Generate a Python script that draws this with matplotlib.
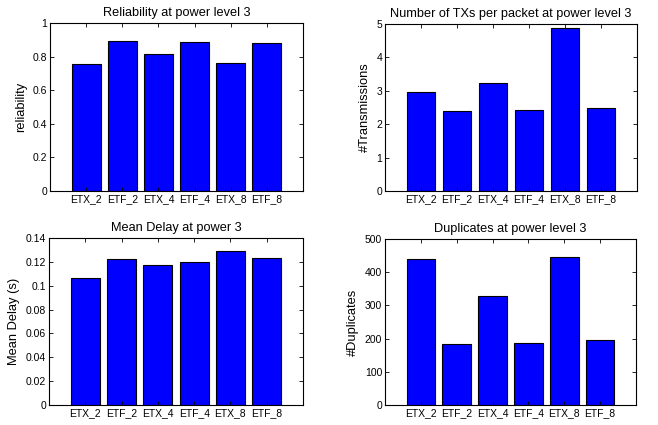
import matplotlib
matplotlib.use("Agg")
import matplotlib.pyplot as plt

categories = ["ETX_2", "ETF_2", "ETX_4", "ETF_4", "ETX_8", "ETF_8"]
reliability = [0.756, 0.891, 0.817, 0.887, 0.762, 0.881]
transmissions = [2.96, 2.40, 3.24, 2.42, 4.87, 2.49]
mean_delay = [0.1064, 0.1224, 0.1173, 0.1196, 0.1294, 0.1232]
duplicates = [441, 185, 329, 186, 447, 197]

plt.rcParams['font.family'] = ['Liberation Sans', 'DejaVu Sans']
plt.rcParams['font.size'] = 8

fig = plt.figure(figsize=(6.58, 4.25), dpi=100)
W, H = 658, 425

def make_ax(l, t, r, b):
    return fig.add_axes([l / W, 1 - b / H, (r - l) / W, (b - t) / H])

panels = [
    ((50, 23, 303, 191), reliability, (0, 1), [0, 0.2, 0.4, 0.6, 0.8, 1],
     ["0", "0.2", "0.4", "0.6", "0.8", "1"], "reliability", "Reliability at power level 3"),
    ((385, 24, 637, 191), transmissions, (0, 5), [0, 1, 2, 3, 4, 5],
     ["0", "1", "2", "3", "4", "5"], "#Transmissions", "Number of TXs per packet at power level 3"),
    ((49, 238, 303, 405), mean_delay, (0, 0.14), [0, 0.02, 0.04, 0.06, 0.08, 0.1, 0.12, 0.14],
     ["0", "0.02", "0.04", "0.06", "0.08", "0.1", "0.12", "0.14"], "Mean Delay (s)", "Mean Delay at power 3"),
    ((385, 239, 636, 405), duplicates, (0, 500), [0, 100, 200, 300, 400, 500],
     ["0", "100", "200", "300", "400", "500"], "#Duplicates", "Duplicates at power level 3"),
]

x = list(range(1, len(categories) + 1))
for box, vals, ylim, yt, ytl, ylabel, title in panels:
    ax = make_ax(*box)
    ax.bar(x, vals, width=0.8, color="#0000ff", edgecolor="black", linewidth=0.8)
    ax.set_xlim(0, 7)
    ax.set_ylim(*ylim)
    ax.set_xticks(x)
    ax.set_xticklabels(categories, fontsize=7.5)
    ax.set_yticks(yt)
    ax.set_yticklabels(ytl, fontsize=7.5)
    ax.tick_params(direction="in", top=True, right=True, length=3, width=0.6, pad=2)
    ax.set_ylabel(ylabel, fontsize=9.3, labelpad=4)
    ax.set_title(title, fontsize=9.2, pad=5)
    for s in ax.spines.values():
        s.set_linewidth(0.8)

fig.savefig("out.png", dpi=100)
